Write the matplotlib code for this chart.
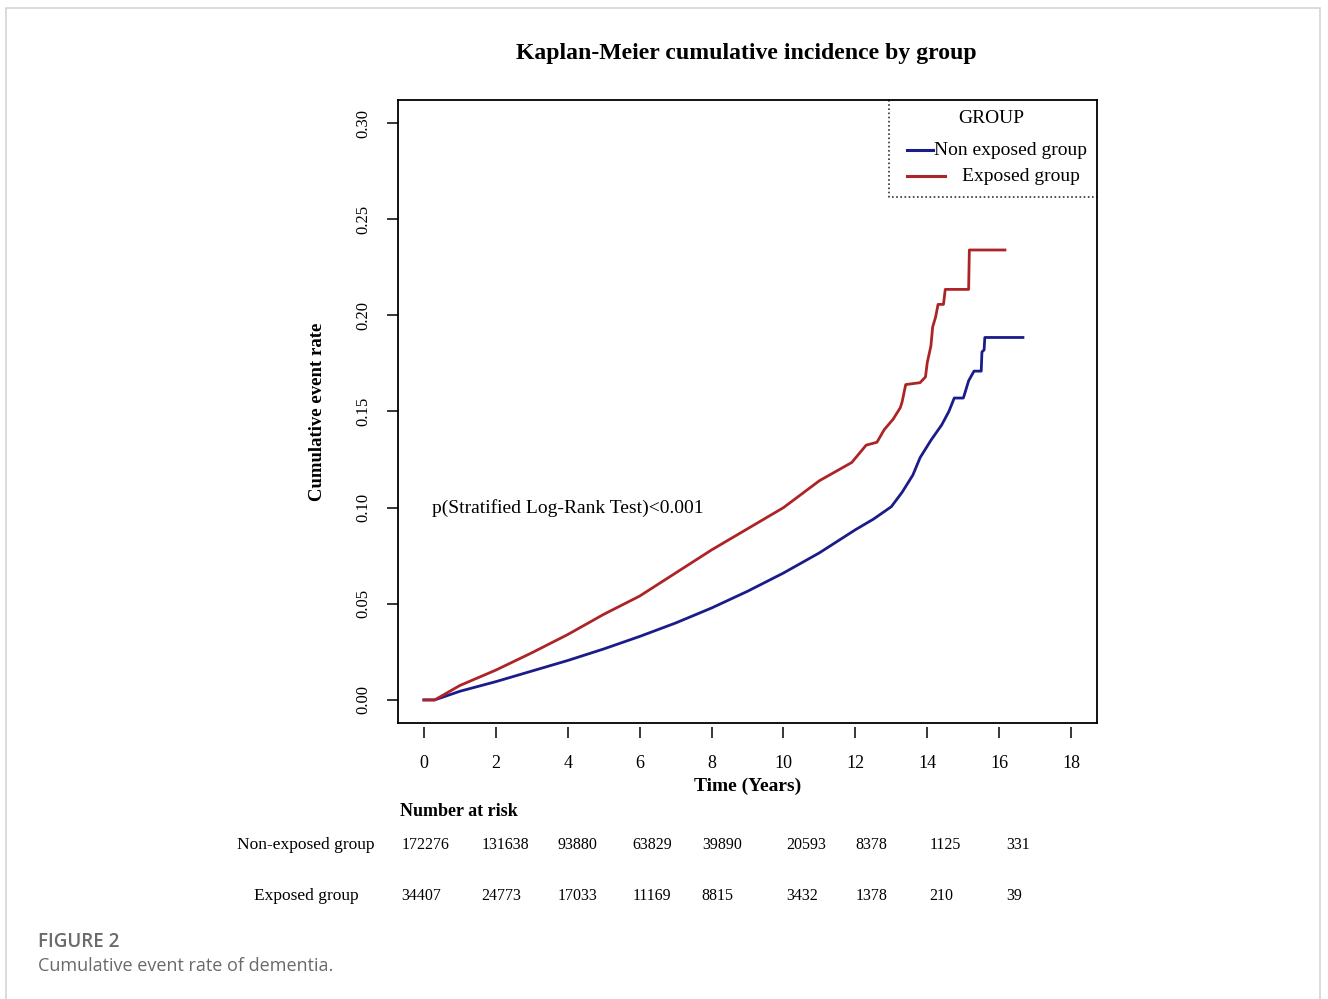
import numpy as np
import matplotlib.pyplot as plt
import matplotlib.transforms as mtransforms
from matplotlib.patches import Rectangle

# cumulative event rate
t_non = [0, 0.3, 1, 2, 3, 4, 5, 6, 7, 8, 9, 10, 11, 12, 12.5, 13, 13.3, 13.6, 13.8,
         14.1, 14.4, 14.6, 14.75, 15.0, 15.02, 15.15, 15.3, 15.5, 15.52, 15.58, 15.6, 16.66]
cum_non = [0, 0, 0.0045, 0.0095, 0.015, 0.0205, 0.0265, 0.033, 0.040, 0.0478, 0.0565, 0.066,
           0.0765, 0.0885, 0.094, 0.1005, 0.108, 0.117, 0.126, 0.135, 0.143, 0.150, 0.157,
           0.157, 0.158, 0.166, 0.171, 0.171, 0.181, 0.182, 0.1885, 0.1885]

t_exp = [0, 0.3, 1, 2, 3, 4, 5, 6, 7, 8, 9, 10, 11, 11.9, 12.3, 12.6, 12.8, 13.05, 13.25,
         13.3, 13.4, 13.8, 13.95, 14.0, 14.1, 14.15, 14.23, 14.3, 14.45, 14.5, 15.15, 15.17, 16.16]
cum_exp = [0, 0, 0.0075, 0.0155, 0.0245, 0.034, 0.0445, 0.054, 0.066, 0.078, 0.089, 0.100,
           0.114, 0.1235, 0.1325, 0.134, 0.1405, 0.146, 0.152, 0.155, 0.164, 0.165, 0.168,
           0.1755, 0.184, 0.194, 0.199, 0.2057, 0.2057, 0.2135, 0.2135, 0.234, 0.234]

risk_times = [0, 2, 4, 6, 8, 10, 12, 14, 16]
risk_non = [172276, 131638, 93880, 63829, 39890, 20593, 8378, 1125, 331]
risk_exp = [34407, 24773, 17033, 11169, 8815, 3432, 1378, 210, 39]

blue = '#1b1b8a'
red = '#ad2426'
plt.rcParams['font.family'] = ['Liberation Serif', 'DejaVu Serif']
sans = ['Open Sans', 'DejaVu Sans']

W, H = 1328, 999
fig = plt.figure(figsize=(W / 100, H / 100), dpi=100)
fig.patch.set_facecolor('white')

def fx(px):
    return px / W

def fy(py):
    return 1 - py / H

# card frame
fig.patches.append(Rectangle((fx(6), fy(1010)), fx(1320) - fx(6), fy(8) - fy(1010),
                             transform=fig.transFigure, fill=False,
                             edgecolor='#d4d4d4', lw=1.2))

ax = fig.add_axes([fx(398), fy(723), fx(1097) - fx(398), fy(100) - fy(723)])
ax.plot(t_non, cum_non, color=blue, lw=2.0)
ax.plot(t_exp, cum_exp, color=red, lw=2.0)

for s in ['top', 'left', 'right']:
    ax.spines[s].set_linewidth(1.3)
ax.spines['bottom'].set_position(('outward', 3))
ax.spines['bottom'].set_visible(False)
ax.plot([0, 1], [0, 0], transform=ax.transAxes, color='black', lw=1.3, clip_on=False)

ax.set_xlim(-0.72, 18.72)
ax.set_ylim(-0.012, 0.312)
ax.set_xticks(range(0, 19, 2))
ax.set_yticks([0, 0.05, 0.10, 0.15, 0.20, 0.25, 0.30])
ax.set_yticklabels(['0.00', '0.05', '0.10', '0.15', '0.20', '0.25', '0.30'],
                   rotation=90, va='center')
ax.tick_params(axis='x', length=8, width=1.1, pad=12, labelsize=13)
ax.tick_params(axis='y', length=8, width=1.1, pad=11, labelsize=12)

ax.set_xlabel('Time (Years)', fontweight='bold', fontsize=14, labelpad=4)
ax.set_ylabel('Cumulative event rate', fontweight='bold', fontsize=13.5, labelpad=21)

ax.text(0.22, 0.10, 'p(Stratified Log-Rank Test)<0.001', fontsize=14,
        va='center', ha='left')

# legend box (dotted left and bottom edges)
lx, ly = 0.7024, 0.8443
ax.plot([lx, lx, 1], [1, ly, ly], transform=ax.transAxes, color='#333333', lw=1.2,
        ls=(0, (1, 1.5)), clip_on=False)
ax.text(0.848, 0.971, 'GROUP', transform=ax.transAxes, fontsize=14,
        ha='center', va='center')
ax.plot([0.728, 0.765], [0.9197, 0.9197], transform=ax.transAxes, color=blue, lw=2.2)
ax.text(0.767, 0.9197, 'Non exposed group', transform=ax.transAxes,
        fontsize=14, ha='left', va='center')
ax.plot([0.728, 0.7825], [0.878, 0.878], transform=ax.transAxes, color=red, lw=2.2)
ax.text(0.807, 0.878, 'Exposed group', transform=ax.transAxes,
        fontsize=14, ha='left', va='center')

fig.text(fx(516), fy(53), 'Kaplan-Meier cumulative incidence by group',
         fontweight='bold', fontsize=17.1, ha='left', va='center')

# number at risk table
fig.text(fx(400), fy(812), 'Number at risk', fontweight='bold',
         fontsize=13, ha='left', va='center')
fig.text(fx(306), fy(845), 'Non-exposed group', fontsize=12.5,
         ha='center', va='center')
fig.text(fx(306), fy(896), 'Exposed group', fontsize=12.5,
         ha='center', va='center')
trans = mtransforms.blended_transform_factory(ax.transData, fig.transFigure)
shift_non = [0.06, 0.26, 0.27, 0.34, 0.29, 0.63, 0.45, 0.51, 0.52]
shift_exp = [-0.08, 0.15, 0.27, 0.34, 0.15, 0.52, 0.45, 0.40, 0.41]
for i, t in enumerate(risk_times):
    ax.text(t + shift_non[i], fy(845), str(risk_non[i]), transform=trans,
            fontsize=11.5, ha='center', va='center')
    ax.text(t + shift_exp[i], fy(896), str(risk_exp[i]), transform=trans,
            fontsize=11.5, ha='center', va='center')

fig.text(fx(38), fy(942), 'FIGURE 2', family=sans,
         fontweight='semibold', fontsize=13.5, color='#6a6a6a', ha='left', va='center')
fig.text(fx(38), fy(966), 'Cumulative event rate of dementia.',
         family=sans, fontsize=13, color='#6a6a6a', ha='left', va='center')

fig.savefig('out.png', dpi=100)
